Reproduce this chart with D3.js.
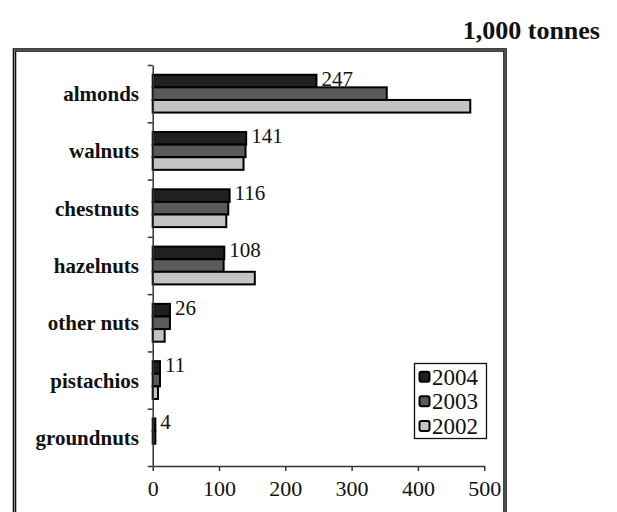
<!DOCTYPE html>
<html>
<head>
<meta charset="utf-8">
<script src="https://cdn.jsdelivr.net/npm/d3@7"></script>
<style>
  html, body { margin: 0; padding: 0; background: #fff; }
  svg { display: block; }
  text { font-family: "Liberation Serif", "Times New Roman", serif; fill: #111; }
</style>
</head>
<body>
<svg id="chart" width="617" height="512"></svg>
<script>
// Nut production, 1,000 tonnes
const categories = ["almonds", "walnuts", "chestnuts", "hazelnuts", "other nuts", "pistachios", "groundnuts"];
const years = ["2004", "2003", "2002"];
const values2004 = [247, 141, 116, 108, 26, 11, 4];
const values2003 = [353, 140, 114, 107, 26, 11, 4];
const values2002 = [479, 137, 111, 154, 18, 8, 0];
const xTicks = [0, 100, 200, 300, 400, 500];
const unitLabel = "1,000 tonnes";

const seriesValues = { "2004": values2004, "2003": values2003, "2002": values2002 };
const colors = { "2004": "#202020", "2003": "#5a5a5a", "2002": "#c3c3c3" };

const svg = d3.select("#chart");

// outer frame (double rule)
svg.append("rect")
  .attr("x", 14.5).attr("y", 50).attr("width", 490.5).attr("height", 500)
  .attr("fill", "none").attr("stroke", "#111").attr("stroke-width", 3.6);
svg.append("rect")
  .attr("x", 14.5).attr("y", 50).attr("width", 490.5).attr("height", 500)
  .attr("fill", "none").attr("stroke", "#8a8a8a").attr("stroke-width", 1);

// unit caption
svg.append("text")
  .attr("x", 600).attr("y", 39)
  .attr("text-anchor", "end")
  .style("font-size", "26px")
  .style("font-weight", "bold")
  .text(unitLabel);

const x = d3.scaleLinear().domain([0, 500]).range([152.7, 484.2]);
const y = d3.scaleBand().domain(categories).range([65, 466]).paddingInner(0.34).paddingOuter(0.17);
const ySub = d3.scaleBand().domain(years).range([0, y.bandwidth()]);

// bars
const rows = categories.map((c, i) => ({ cat: c, i }));
const groups = svg.append("g").selectAll("g").data(rows).join("g")
  .attr("transform", d => `translate(0,${y(d.cat)})`);

groups.selectAll("rect")
  .data(d => years.map(yr => ({ yr, v: seriesValues[yr][d.i] })).filter(e => e.v > 0))
  .join("rect")
  .attr("x", x(0))
  .attr("y", e => ySub(e.yr))
  .attr("width", e => x(e.v) - x(0))
  .attr("height", ySub.bandwidth())
  .attr("fill", e => colors[e.yr])
  .attr("stroke", "#000")
  .attr("stroke-width", 2);

// value labels (2004)
groups.append("text")
  .attr("x", d => x(values2004[d.i]) + 5)
  .attr("y", ySub("2004") + ySub.bandwidth() / 2 + 4.5)
  .style("font-size", "21px")
  .text(d => values2004[d.i]);

// y axis: ticks at category boundaries
const yIdx = d3.scaleLinear().domain([0, categories.length]).range([65, 466]);
const yAxis = svg.append("g")
  .attr("transform", `translate(${x(0)},0)`)
  .call(d3.axisLeft(yIdx).tickValues(d3.range(categories.length + 1)).tickSize(5).tickSizeOuter(0).tickFormat(""));
yAxis.selectAll("path, line").attr("stroke", "#333").attr("stroke-width", 1.5);

// category labels
svg.append("g").selectAll("text").data(categories).join("text")
  .attr("x", 139)
  .attr("y", d => y(d) + y.bandwidth() / 2 + 7.5)
  .attr("text-anchor", "end")
  .style("font-size", "21px")
  .style("font-weight", "bold")
  .text(d => d);

// x axis
const xAxis = svg.append("g")
  .attr("transform", `translate(0,${466})`)
  .call(d3.axisBottom(x).tickValues(xTicks).tickSize(5).tickSizeOuter(0).tickPadding(9));
xAxis.select(".domain").attr("stroke", "#333").attr("stroke-width", 1.5);
xAxis.selectAll("line").attr("stroke", "#333").attr("stroke-width", 1.5);
xAxis.selectAll("text")
  .style("font-family", "'Liberation Serif', serif")
  .style("font-size", "22px")
  .attr("fill", "#111");

// legend
const legend = svg.append("g");
legend.append("rect")
  .attr("x", 414.5).attr("y", 363.5).attr("width", 72).attr("height", 75)
  .attr("fill", "#fff").attr("stroke", "#111").attr("stroke-width", 1.3);
const legRow = d3.scalePoint().domain(years).range([376.7, 426]);
const li = legend.selectAll("g.item").data(years).join("g").attr("class", "item")
  .attr("transform", d => `translate(0,${legRow(d)})`);
li.append("rect")
  .attr("x", 419.5).attr("y", -5).attr("width", 10).attr("height", 10)
  .attr("rx", 2)
  .attr("fill", d => colors[d]).attr("stroke", "#000").attr("stroke-width", 2);
li.append("text")
  .attr("x", 432).attr("y", 8)
  .style("font-size", "23px")
  .text(d => d);
</script>
</body>
</html>
